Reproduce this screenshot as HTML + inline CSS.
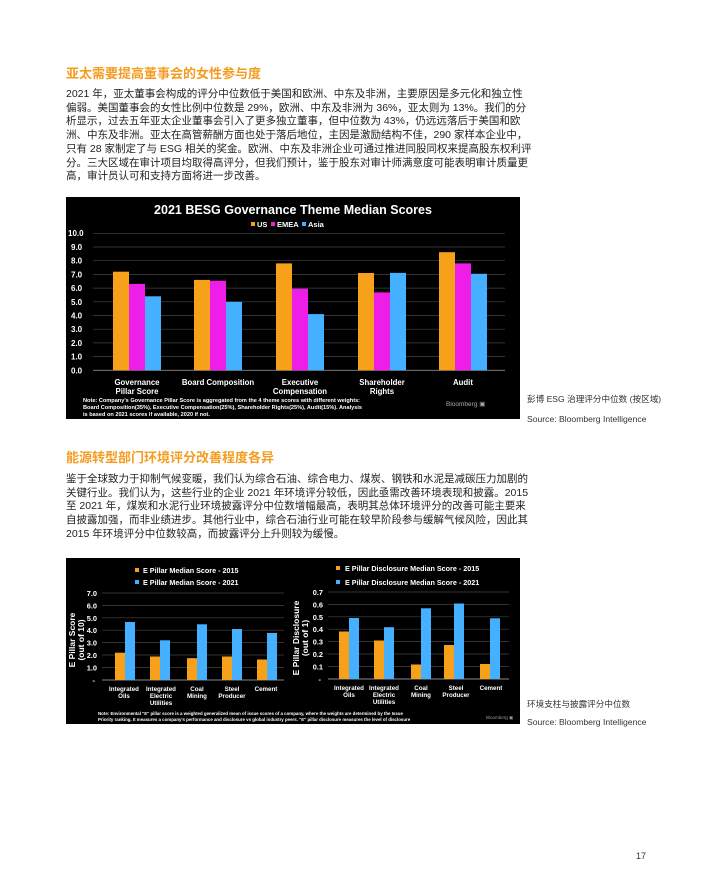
<!DOCTYPE html>
<html><head><meta charset="utf-8"><style>
body{margin:0;width:710px;height:887px;background:#fff;position:relative;overflow:hidden;font-family:"Liberation Sans","Noto Sans CJK SC",sans-serif;}
.h{position:absolute;left:66px;color:#f39c1f;font-weight:bold;font-size:13px;line-height:16px;white-space:nowrap}
.p{position:absolute;left:66px;color:#222;font-size:10.5px;line-height:13.7px;white-space:nowrap}
.c{position:absolute;left:527px;font-size:8.6px;color:#333;white-space:nowrap;line-height:12px}
svg{position:absolute}
svg text{font-family:"Liberation Sans",sans-serif;font-weight:bold;fill:#fff}
</style></head><body>
<div class="h" style="top:66px">亚太需要提高董事会的女性参与度</div>
<div class="p" style="top:88px">2021 年，亚太董事会构成的评分中位数低于美国和欧洲、中东及非洲，主要原因是多元化和独立性<br>偏弱。美国董事会的女性比例中位数是 29%，欧洲、中东及非洲为 36%，亚太则为 13%。我们的分<br>析显示，过去五年亚太企业董事会引入了更多独立董事，但中位数为 43%，仍远远落后于美国和欧<br>洲、中东及非洲。亚太在高管薪酬方面也处于落后地位，主因是激励结构不佳，290 家样本企业中，<br>只有 28 家制定了与 ESG 相关的奖金。欧洲、中东及非洲企业可通过推进同股同权来提高股东权利评<br>分。三大区域在审计项目均取得高评分，但我们预计，鉴于股东对审计师满意度可能表明审计质量更<br>高，审计员认可和支持方面将进一步改善。</div>

<svg style="left:66px;top:197px" width="454" height="222" viewBox="0 0 454 222">
<rect width="454" height="222" fill="#000"/>
<text x="227" y="17" text-anchor="middle" font-size="12.5">2021 BESG Governance Theme Median Scores</text>
<rect x="185" y="25" width="4" height="4" fill="#f7a11a"/><text x="191" y="30" font-size="7.5">US</text>
<rect x="205" y="25" width="4" height="4" fill="#ee1ee8"/><text x="211" y="30" font-size="7.5">EMEA</text>
<rect x="236" y="25" width="4" height="4" fill="#45b0ff"/><text x="242" y="30" font-size="7.5">Asia</text>
<g stroke="#444" stroke-width="0.7">
<line x1="27" x2="439" y1="36.3" y2="36.3"/><line x1="27" x2="439" y1="50" y2="50"/><line x1="27" x2="439" y1="63.7" y2="63.7"/><line x1="27" x2="439" y1="77.4" y2="77.4"/><line x1="27" x2="439" y1="91.1" y2="91.1"/><line x1="27" x2="439" y1="104.8" y2="104.8"/><line x1="27" x2="439" y1="118.5" y2="118.5"/><line x1="27" x2="439" y1="132.2" y2="132.2"/><line x1="27" x2="439" y1="145.9" y2="145.9"/><line x1="27" x2="439" y1="159.6" y2="159.6"/></g>
<line x1="27" x2="439" y1="173.3" y2="173.3" stroke="#888" stroke-width="0.8"/>
<g font-size="8">
<text x="2" y="39">10.0</text><text x="5" y="53">9.0</text><text x="5" y="66.7">8.0</text><text x="5" y="80.4">7.0</text><text x="5" y="94.1">6.0</text><text x="5" y="107.8">5.0</text><text x="5" y="121.5">4.0</text><text x="5" y="135.2">3.0</text><text x="5" y="148.9">2.0</text><text x="5" y="162.6">1.0</text><text x="5" y="176.3">0.0</text></g>
<g fill="#f7a11a"><rect x="47" y="74.7" width="16" height="98.6"/><rect x="128" y="82.9" width="16" height="90.4"/><rect x="210" y="66.4" width="16" height="106.9"/><rect x="292" y="76.0" width="16" height="97.3"/><rect x="373" y="55.2" width="16" height="118.1"/></g>
<g fill="#ee1ee8"><rect x="63" y="86.9" width="16" height="86.4"/><rect x="144" y="83.8" width="16" height="89.5"/><rect x="226" y="91.7" width="16" height="81.6"/><rect x="308" y="95.4" width="16" height="77.9"/><rect x="389" y="66.4" width="16" height="106.9"/></g>
<g fill="#45b0ff"><rect x="79" y="99.3" width="16" height="74"/><rect x="160" y="104.8" width="16" height="68.5"/><rect x="242" y="117.1" width="16" height="56.2"/><rect x="324" y="75.9" width="16" height="97.4"/><rect x="405" y="76.8" width="16" height="96.5"/></g>
<g font-size="7.8" text-anchor="middle">
<text x="71" y="188">Governance</text><text x="71" y="197">Pillar Score</text>
<text x="152" y="188">Board Composition</text>
<text x="234" y="188">Executive</text><text x="234" y="197">Compensation</text>
<text x="316" y="188">Shareholder</text><text x="316" y="197">Rights</text>
<text x="397" y="188">Audit</text></g>
<g font-size="5.6"><text x="17" y="205">Note: Company's Governance Pillar Score is aggregated from the 4 theme scores with different weights:</text>
<text x="17" y="212">Board Composition(35%), Executive Compensation(25%), Shareholder Rights(25%), Audit(15%). Analysis</text>
<text x="17" y="219">is based on 2021 scores if available, 2020 if not.</text></g>
<text x="380" y="209" font-size="6.5" style="fill:#aaa;font-weight:normal">Bloomberg ▣</text>
</svg>
<div class="c" style="top:393px">彭博 ESG 治理评分中位数 (按区域)</div>
<div class="c" style="top:413px">Source: Bloomberg Intelligence</div>

<div class="h" style="top:450px">能源转型部门环境评分改善程度各异</div>
<div class="p" style="top:473px">鉴于全球致力于抑制气候变暖，我们认为综合石油、综合电力、煤炭、钢铁和水泥是减碳压力加剧的<br>关键行业。我们认为，这些行业的企业 2021 年环境评分较低，因此亟需改善环境表现和披露。2015<br>至 2021 年，煤炭和水泥行业环境披露评分中位数增幅最高，表明其总体环境评分的改善可能主要来<br>自披露加强，而非业绩进步。其他行业中，综合石油行业可能在较早阶段参与缓解气候风险，因此其<br>2015 年环境评分中位数较高，而披露评分上升则较为缓慢。</div>

<svg style="left:66px;top:558px" width="454" height="166" viewBox="0 0 454 166">
<rect width="454" height="166" fill="#000"/>
<g font-size="7.2">
<rect x="69" y="10" width="4" height="4" fill="#f7a11a"/><text x="77" y="15">E Pillar Median Score - 2015</text>
<rect x="69" y="22" width="4" height="4" fill="#45b0ff"/><text x="77" y="27">E Pillar Median Score - 2021</text>
<rect x="270" y="8" width="4" height="4" fill="#f7a11a"/><text x="279" y="13">E Pillar Disclosure Median Score - 2015</text>
<rect x="270" y="22" width="4" height="4" fill="#45b0ff"/><text x="279" y="27">E Pillar Disclosure Median Score - 2021</text></g>
<g stroke="#444" stroke-width="0.7">
<line x1="36" x2="218" y1="35" y2="35"/><line x1="36" x2="218" y1="47.4" y2="47.4"/><line x1="36" x2="218" y1="59.8" y2="59.8"/><line x1="36" x2="218" y1="72.2" y2="72.2"/><line x1="36" x2="218" y1="84.6" y2="84.6"/><line x1="36" x2="218" y1="97" y2="97"/><line x1="36" x2="218" y1="109.4" y2="109.4"/>
<line x1="262" x2="443" y1="34" y2="34"/><line x1="262" x2="443" y1="46.4" y2="46.4"/><line x1="262" x2="443" y1="58.8" y2="58.8"/><line x1="262" x2="443" y1="71.2" y2="71.2"/><line x1="262" x2="443" y1="83.6" y2="83.6"/><line x1="262" x2="443" y1="96" y2="96"/><line x1="262" x2="443" y1="108.4" y2="108.4"/></g>
<line x1="36" x2="218" y1="122" y2="122" stroke="#888"/><line x1="262" x2="443" y1="121" y2="121" stroke="#888"/>
<g font-size="7.4" text-anchor="end">
<text x="31" y="38">7.0</text><text x="31" y="50.4">6.0</text><text x="31" y="62.8">5.0</text><text x="31" y="75.2">4.0</text><text x="31" y="87.6">3.0</text><text x="31" y="100">2.0</text><text x="31" y="112.4">1.0</text><text x="29" y="125">-</text>
<text x="257" y="37">0.7</text><text x="257" y="49.4">0.6</text><text x="257" y="61.8">0.5</text><text x="257" y="74.2">0.4</text><text x="257" y="86.6">0.3</text><text x="257" y="99">0.2</text><text x="257" y="111.4">0.1</text><text x="255" y="124">-</text></g>
<g font-size="8.5" text-anchor="middle"><text transform="translate(9,82) rotate(-90)">E Pillar Score</text><text transform="translate(18,82) rotate(-90)">(out of 10)</text>
<text transform="translate(233,80) rotate(-90)">E Pillar Disclosure</text><text transform="translate(242,80) rotate(-90)">(out of 1)</text></g>
<g fill="#f7a11a"><rect x="49" y="94.7" width="10" height="27.3"/><rect x="84" y="98.5" width="10" height="23.5"/><rect x="121" y="100.2" width="10" height="21.8"/><rect x="156" y="98.5" width="10" height="23.5"/><rect x="191" y="101.5" width="10" height="20.5"/>
<rect x="273" y="73.5" width="10" height="47.5"/><rect x="308" y="82.5" width="10" height="38.5"/><rect x="345" y="106.5" width="10" height="14.5"/><rect x="378" y="87" width="10" height="34"/><rect x="414" y="106" width="10" height="15"/></g>
<g fill="#45b0ff"><rect x="59" y="64" width="10" height="58"/><rect x="94" y="82.3" width="10" height="39.7"/><rect x="131" y="66.3" width="10" height="55.7"/><rect x="166" y="71" width="10" height="51"/><rect x="201" y="75" width="10" height="47"/>
<rect x="283" y="60" width="10" height="61"/><rect x="318" y="69.2" width="10" height="51.8"/><rect x="355" y="50.3" width="10" height="70.7"/><rect x="388" y="45.5" width="10" height="75.5"/><rect x="424" y="60.3" width="10" height="60.7"/></g>
<g font-size="6.2" text-anchor="middle">
<text x="58" y="133">Integrated</text><text x="58" y="140">Oils</text>
<text x="95" y="133">Integrated</text><text x="95" y="140">Electric</text><text x="95" y="147">Utilities</text>
<text x="131" y="133">Coal</text><text x="131" y="140">Mining</text>
<text x="166" y="133">Steel</text><text x="166" y="140">Producer</text>
<text x="200" y="133">Cement</text>
<text x="283" y="132">Integrated</text><text x="283" y="139">Oils</text>
<text x="318" y="132">Integrated</text><text x="318" y="139">Electric</text><text x="318" y="146">Utilities</text>
<text x="355" y="132">Coal</text><text x="355" y="139">Mining</text>
<text x="390" y="132">Steel</text><text x="390" y="139">Producer</text>
<text x="425" y="132">Cement</text></g>
<g font-size="4.4"><text x="32" y="157">Note: Environmental "E" pillar score is a weighted generalized mean of issue scores of a company, where the weights are determined by the Issue</text>
<text x="32" y="163">Priority ranking. It measures a company's performance and disclosure vs global industry peers. "E" pillar disclosure measures the level of disclosure</text></g>
<text x="420" y="161" font-size="4.5" style="fill:#999;font-weight:normal">Bloomberg ▣</text>
</svg>
<div class="c" style="top:698px">环境支柱与披露评分中位数</div>
<div class="c" style="top:716px">Source: Bloomberg Intelligence</div>
<div style="position:absolute;left:636px;top:851px;font-size:9px;color:#333">17</div>
</body></html>
